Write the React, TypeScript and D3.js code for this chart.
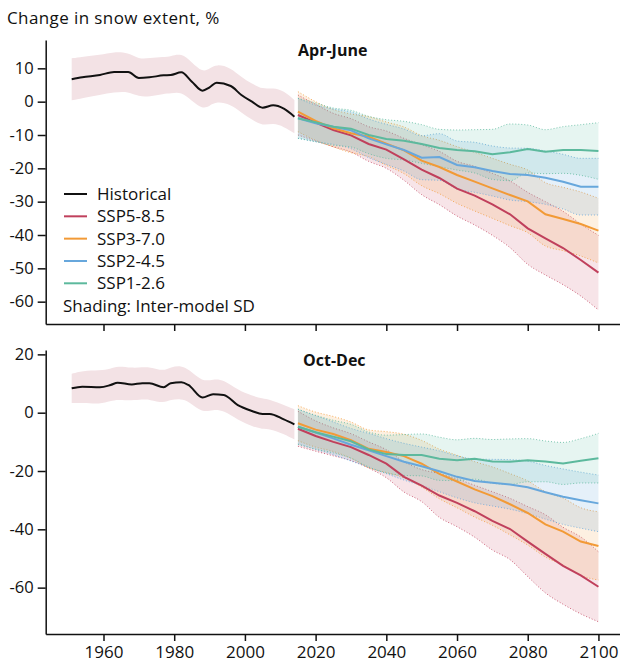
import React, { useEffect, useRef } from "react";
import * as d3 from "d3";

const W = 620;
const H = 663;
const FONT = "'Open Sans', sans-serif";

// historical, Apr-June
const histYearsAJ = [1951, 1954, 1959, 1963, 1967, 1970, 1973, 1977, 1979, 1982, 1985, 1988, 1990, 1992, 1996, 1999, 2002, 2005, 2008, 2011, 2014];
const histAJ = [6.7, 7.3, 8.0, 8.9, 8.9, 7.1, 7.3, 7.9, 8.0, 8.8, 6.0, 3.3, 4.3, 5.7, 4.7, 2.0, 0, -1.8, -1.1, -2.1, -4.5];
const histSdAJ = [6.3, 6.2, 6.0, 6.1, 5.8, 5.6, 5.8, 5.5, 5.6, 5.8, 5.8, 5.5, 5.6, 5.6, 5.5, 5.3, 5.4, 5.5, 5.3, 5.4, 5.0];

// historical, Oct-Dec
const histYearsOD = [1951, 1954, 1959, 1962, 1964, 1968, 1971, 1973, 1977, 1979, 1982, 1984, 1988, 1991, 1994, 1998, 2002, 2005, 2007, 2011, 2014];
const histOD = [8.35, 8.9, 8.7, 9.5, 10.3, 9.7, 10.1, 10.1, 8.7, 10.1, 10.4, 9.5, 5.2, 6.3, 6.1, 2.6, 0.6, -0.45, -0.45, -2.3, -4.0];
const histSdOD = [5.0, 5.5, 5.8, 5.5, 5.8, 5.6, 5.5, 5.6, 5.5, 5.6, 5.7, 5.5, 5.3, 5.2, 5.3, 5.1, 5.2, 5.3, 5.0, 5.0, 5.2];

// projections
const projYears = [2015, 2020, 2025, 2030, 2035, 2040, 2045, 2050, 2055, 2060, 2065, 2070, 2075, 2080, 2085, 2090, 2095, 2100];

const ssp585AJ = [-4, -6.3, -8.5, -10.1, -12.7, -14.4, -17.3, -20.4, -22.9, -26.1, -28.2, -30.8, -33.8, -38, -41, -43.9, -47.5, -51.3];
const ssp585SdAJ = [6, 5.5, 5, 5, 5.2, 5.6, 6.3, 7.5, 8, 8.2, 8.8, 9.3, 10, 10.8, 11, 11, 10.8, 11.2];
const ssp370AJ = [-3, -5.8, -8, -9.5, -10.5, -12.6, -14.6, -17.7, -19.6, -22, -24, -26, -28, -29.9, -33.8, -35.2, -36.7, -38.7];
const ssp370SdAJ = [6, 5.8, 5.6, 5.8, 6, 6.5, 7, 7.5, 8, 8.5, 8.8, 9, 9.2, 9.4, 9.5, 9.5, 9.6, 9.7];
const ssp245AJ = [-5, -6.5, -7.5, -8.6, -11, -12.8, -14.5, -16.8, -16.6, -19, -19.7, -20.8, -21.7, -22, -22.8, -24, -25.5, -25.5];
const ssp245SdAJ = [6, 5.5, 5.3, 5.5, 5.8, 6, 6.3, 6.6, 7, 7.2, 7.5, 7.5, 7.8, 8, 8, 8.2, 8.5, 8.5];
const ssp126AJ = [-5, -6.2, -7.5, -8.1, -10, -11.2, -11.7, -12.7, -13.9, -14.5, -14.9, -15.8, -15.2, -14.2, -15, -14.5, -14.5, -14.8];
const ssp126SdAJ = [6, 5.8, 5.6, 5.5, 5.6, 5.8, 5.8, 5.8, 5.6, 6, 6.5, 7.5, 8.5, 7.2, 6.6, 7, 7.6, 8.5];

const ssp585OD = [-5.5, -8, -10, -11.8, -14.5, -17.5, -22, -25, -28.4, -30.9, -33.8, -37.1, -39.9, -44.2, -48.4, -52.5, -55.8, -59.7];
const ssp585SdOD = [6, 5.2, 4.8, 4.6, 4.5, 4.8, 5.2, 5.5, 7.5, 8.2, 8.9, 10, 10.5, 12, 13.4, 13.2, 13.2, 12];
const ssp370OD = [-3.6, -5.8, -7.3, -9.4, -12.4, -13.5, -14.9, -17.5, -21, -23.6, -26.3, -28.6, -31.4, -34.4, -38.3, -40.8, -44.2, -45.7];
const ssp370SdOD = [6, 6, 6, 6.2, 6.5, 7, 7.5, 8, 8.5, 9, 9.5, 10, 10.5, 11, 11.2, 11.5, 11.6, 11.7];
const ssp245OD = [-4.8, -6.8, -8.8, -11, -12.9, -14.9, -16.8, -18.4, -20.1, -22, -23.4, -24, -24.6, -25.6, -27.3, -28.8, -30, -31.1];
const ssp245SdOD = [6, 5.8, 5.6, 5.6, 5.8, 6, 6.3, 6.6, 7, 7.2, 7.5, 8, 8.5, 9, 9.2, 9.5, 9.6, 9.7];
const ssp126OD = [-4.8, -6.7, -8.2, -9.8, -12.6, -14.2, -14.5, -14.5, -15.8, -16.3, -15.8, -16.7, -16.8, -16.3, -16.7, -17.4, -16.5, -15.6];
const ssp126SdOD = [6, 5.8, 5.6, 5.8, 6, 6.5, 7, 7.2, 7.4, 7, 7, 7.5, 7.8, 7.4, 7, 7.2, 7.6, 8.5];

const scenarioNames = ["SSP5-8.5", "SSP3-7.0", "SSP2-4.5", "SSP1-2.6"];
const scenarioColors = ["#c0405c", "#f29a36", "#67a7dc", "#5cb99d"];
const scenarioFills = ["rgba(196,65,93,0.14)", "rgba(245,160,70,0.16)", "rgba(110,170,220,0.18)", "rgba(90,185,160,0.15)"];

const xTicks = [1960, 1980, 2000, 2020, 2040, 2060, 2080, 2100];
const yTicksAJ = [10, 0, -10, -20, -30, -40, -50, -60];
const yTicksOD = [20, 0, -20, -40, -60];

const legendLabels = ["Historical", ...scenarioNames];

const panels = [
  {
    title: "Apr-June", titleX: 298, titleY: 56, top: 40, bottom: 324, domain: [-66.7, 18.5], ticks: yTicksAJ, showXLabels: false,
    hist: { years: histYearsAJ, mean: histAJ, sd: histSdAJ },
    proj: [[ssp585AJ, ssp585SdAJ], [ssp370AJ, ssp370SdAJ], [ssp245AJ, ssp245SdAJ], [ssp126AJ, ssp126SdAJ]],
  },
  {
    title: "Oct-Dec", titleX: 303, titleY: 366, top: 350, bottom: 634, domain: [-75.9, 21.5], ticks: yTicksOD, showXLabels: true,
    hist: { years: histYearsOD, mean: histOD, sd: histSdOD },
    proj: [[ssp585OD, ssp585SdOD], [ssp370OD, ssp370SdOD], [ssp245OD, ssp245SdOD], [ssp126OD, ssp126SdOD]],
  },
];

export default function App() {
  const ref = useRef(null);

  useEffect(() => {
    const svg = d3.select(ref.current);
    svg.selectAll("*").remove();

    const left = 45.7;
    const x = d3.scaleLinear().domain([1943.65, 2106.1]).range([left, W]);

    svg.append("text").attr("x", 7).attr("y", 24).attr("font-size", 17).attr("letter-spacing", 0.4)
      .attr("fill", "#111").text("Change in snow extent, %");

    panels.forEach((p) => {
      const y = d3.scaleLinear().domain(p.domain).range([p.bottom, p.top]);
      const g = svg.append("g");

      // historical band and line
      const hist = p.hist.years.map((yr, i) => ({ yr, m: p.hist.mean[i], s: p.hist.sd[i] }));
      g.append("path").datum(hist).attr("fill", "#f3e2e5")
        .attr("d", d3.area().x((d) => x(d.yr)).y0((d) => y(d.m - d.s)).y1((d) => y(d.m + d.s)).curve(d3.curveBasis));

      // projection bands, dotted at +/- 1 SD
      p.proj.forEach(([mean, sd], k) => {
        const rows = projYears.map((yr, i) => ({ yr, m: mean[i], s: sd[i] }));
        g.append("path").datum(rows).attr("fill", scenarioFills[k])
          .attr("d", d3.area().x((d) => x(d.yr)).y0((d) => y(d.m - d.s)).y1((d) => y(d.m + d.s)).curve(d3.curveMonotoneX));
        [1, -1].forEach((sign) => {
          g.append("path").datum(rows).attr("fill", "none").attr("stroke", scenarioColors[k])
            .attr("stroke-width", 1).attr("stroke-dasharray", "1,2").attr("opacity", 0.8)
            .attr("d", d3.line().x((d) => x(d.yr)).y((d) => y(d.m + sign * d.s)).curve(d3.curveMonotoneX));
        });
      });

      // projection lines
      p.proj.forEach(([mean], k) => {
        g.append("path").datum(projYears.map((yr, i) => [yr, mean[i]])).attr("fill", "none")
          .attr("stroke", scenarioColors[k]).attr("stroke-width", 2)
          .attr("d", d3.line().x((d) => x(d[0])).y((d) => y(d[1])));
      });

      g.append("path").datum(hist).attr("fill", "none").attr("stroke", "#111").attr("stroke-width", 2)
        .attr("d", d3.line().x((d) => x(d.yr)).y((d) => y(d.m)).curve(d3.curveMonotoneX));

      // axes
      const yAxis = g.append("g").attr("transform", `translate(${left},0)`)
        .call(d3.axisLeft(y).tickValues(p.ticks).tickSize(8).tickSizeOuter(0).tickPadding(4).tickFormat((d) => String(d)));
      const xAxis = g.append("g").attr("transform", `translate(0,${p.bottom})`)
        .call(d3.axisBottom(x).tickValues(xTicks).tickSize(7).tickSizeOuter(0).tickPadding(5)
          .tickFormat((d) => (p.showXLabels ? String(d) : "")));
      [yAxis, xAxis].forEach((a) => {
        a.selectAll("path,line").attr("stroke", "#111").attr("stroke-width", 1.5);
        a.selectAll("text").attr("font-family", FONT).attr("fill", "#111");
      });
      yAxis.selectAll("text").attr("font-size", 16.5);
      xAxis.selectAll("text").attr("font-size", 17);

      g.append("text").attr("x", p.titleX).attr("y", p.titleY).attr("font-size", 16)
        .attr("font-weight", "bold").attr("fill", "#111").text(p.title);
    });

    // legend
    const leg = svg.append("g");
    const legColors = ["#111", ...scenarioColors];
    const rowY = d3.scalePoint().domain(legendLabels).range([194, 283.3]);
    legendLabels.forEach((lab, i) => {
      leg.append("line").attr("x1", 64).attr("x2", 87).attr("y1", rowY(lab)).attr("y2", rowY(lab))
        .attr("stroke", legColors[i]).attr("stroke-width", 2);
      leg.append("text").attr("x", 97).attr("y", rowY(lab)).attr("dy", "0.35em").attr("font-size", 17)
        .attr("fill", "#111").text(lab);
    });
    leg.append("text").attr("x", 63).attr("y", 306).attr("dy", "0.35em").attr("font-size", 17)
      .attr("fill", "#111").text("Shading: Inter-model SD");
  }, []);

  return (
    <svg ref={ref} width={W} height={H} style={{ position: "absolute", left: 0, top: 0, background: "#fff" }}
      fontFamily={FONT} />
  );
}
